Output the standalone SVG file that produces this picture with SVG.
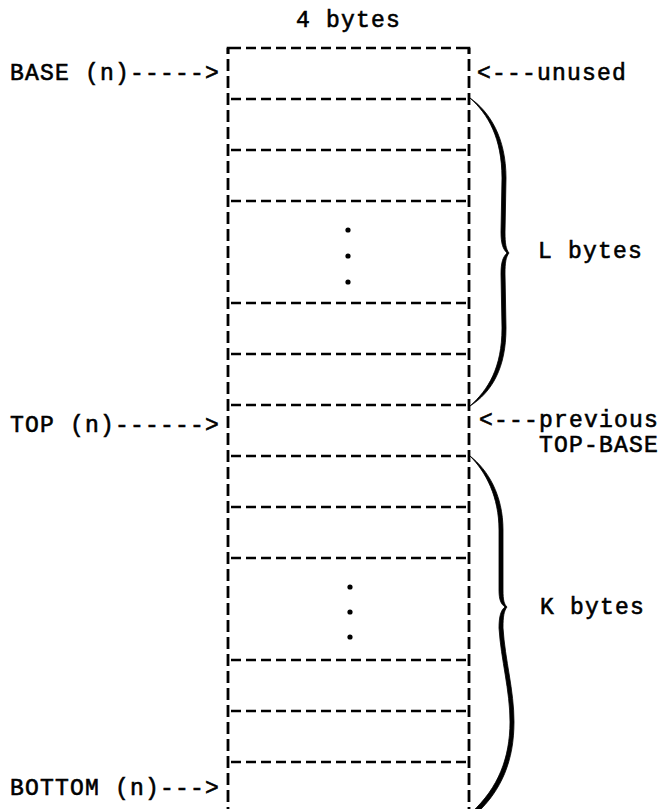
<svg xmlns="http://www.w3.org/2000/svg" width="658" height="809" viewBox="0 0 658 809">
<style>
  .t { font-family: "Liberation Mono", "Courier New", monospace; font-size: 23px; letter-spacing: 1.2px; fill: #000; stroke: #000; stroke-width: 0.6; }
  .h { fill: none; stroke: #000; stroke-width: 2.6; stroke-dasharray: 10 5; }
  .v { fill: none; stroke: #000; stroke-width: 2.8; stroke-dasharray: 12 5; stroke-dashoffset: 6; }
  .tick { fill: none; stroke: #000; stroke-width: 2.6; }
  .brace { fill: #000; stroke: #000; stroke-width: 0.8; }
</style>
<rect width="658" height="809" fill="#fff"/>

<g id="header">
  <text class="t" x="296" y="27">4 bytes</text>
</g>

<g id="stack">
  <path class="v" d="M228,48 V809"/>
  <path class="v" d="M469,48 V809"/>
  <path class="tick" d="M231,48 H228 V54 M466,48 H469 V54"/>
  <path class="h" d="M231,48 H466"/>
  <path class="h" d="M231,99 H466"/>
  <path class="h" d="M231,150 H466"/>
  <path class="h" d="M231,201 H466"/>
  <path class="h" d="M231,303 H466"/>
  <path class="h" d="M231,354 H466"/>
  <path class="h" d="M231,405 H466"/>
  <path class="h" d="M231,456 H466"/>
  <path class="h" d="M231,507 H466"/>
  <path class="h" d="M231,558 H466"/>
  <path class="h" d="M231,660 H466"/>
  <path class="h" d="M231,711 H466"/>
  <path class="h" d="M231,762 H466"/>
  <g id="dots-upper">
    <circle cx="348" cy="230" r="2.6"/>
    <circle cx="348" cy="256" r="2.6"/>
    <circle cx="348" cy="282" r="2.6"/>
  </g>
  <g id="dots-lower">
    <circle cx="350" cy="587" r="2.6"/>
    <circle cx="350" cy="612" r="2.6"/>
    <circle cx="350" cy="637" r="2.6"/>
  </g>
</g>

<g id="label-base">
  <text class="t" x="10" y="80">BASE (n)-----&gt;</text>
</g>
<g id="label-unused">
  <text class="t" x="477" y="80">&lt;---unused</text>
</g>
<g id="label-top">
  <text class="t" x="10" y="432">TOP (n)------&gt;</text>
</g>
<g id="label-previous">
  <text class="t" x="479" y="427">&lt;---previous</text>
  <text class="t" x="539" y="452">TOP-BASE</text>
</g>
<g id="label-bottom">
  <text class="t" x="10" y="795">BOTTOM (n)---&gt;</text>
</g>

<g id="connectors">
  <g id="brace-l">
    <path class="brace" d="M470,98 C490,112 506,138 506,178 L505,232 C505,244 506,249 509,253 C506,257 505,262 505,274 L506,328 C506,368 492,392 470,406 C488,390 502,368 502,328 L501,274 C501,262 503,257 507,253 C503,249 501,244 501,232 L502,178 C502,138 488,114 470,98 Z"/>
  </g>
  <g id="brace-k">
    <path class="brace" d="M470,456 C488,470 503,495 503,530 L503,590 C503,600 504,604 507,607 C504,611 503,616 503,628 C505,660 514,690 514,722 C514,760 502,790 476,814 L472,812 C498,788 510,758 510,722 C510,690 501,660 499,628 C499,616 501,610 505,607 C501,604 499,600 499,590 L499,530 C499,497 486,472 470,456 Z"/>
  </g>
</g>

<g id="label-l">
  <text class="t" x="538" y="258">L bytes</text>
</g>
<g id="label-k">
  <text class="t" x="540" y="614">K bytes</text>
</g>
</svg>
